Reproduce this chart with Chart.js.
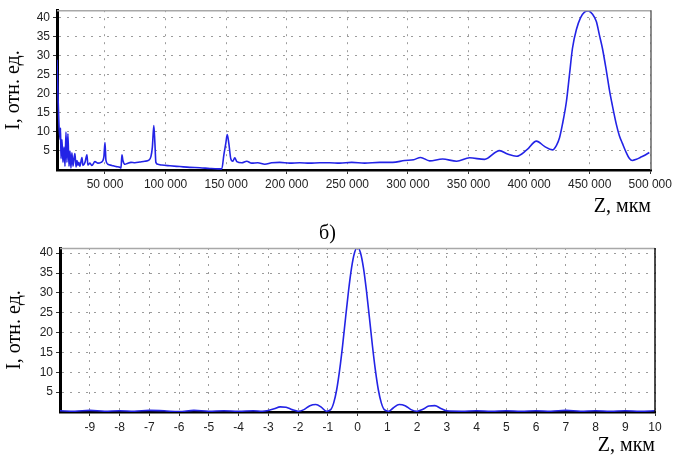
<!DOCTYPE html>
<html><head><meta charset="utf-8">
<script src="https://cdn.jsdelivr.net/npm/chart.js@4.4.0/dist/chart.umd.min.js"></script>
<style>
html,body{margin:0;padding:0;background:#fff;width:676px;height:458px;overflow:hidden}
#c1{position:absolute;left:0;top:0}
#c2{position:absolute;left:0;top:222px}
</style></head><body>
<canvas id="c1" width="676" height="222"></canvas>
<canvas id="c2" width="676" height="236"></canvas>
<script>
// ---- Chart (a): intensity along Z, wide range ----
const topZ = [10400,11200,12000,12900,13300,13700,14500,15300,16200,17000,17800,18600,19400,20300,21100,21900,22700,23600,24400,25200,26100,26900,27700,28500,29300,31000,31800,33500,35100,35900,37600,39200,41700,44200,46700,48300,49100,50000,50800,52400,55700,59000,62300,63200,64000,64800,66500,68900,71400,74700,78800,82900,86200,87900,89100,90300,91200,92000,93700,96900,103600,111800,120000,128300,136500,143100,146400,148100,149700,150900,152200,153800,155500,157100,158800,162900,167000,171100,176100,181900,187600,194200,202500,210700,218900,227200,235400,243700,253600,264300,276700,287400,297300,304700,310500,317900,328600,340200,350900,363200,375600,382200,389600,397800,406100,412700,419300,422600,425100,427500,430800,433300,435800,439100,442400,445700,448900,452200,455500,458000,460500,463800,466300,468700,472000,474500,477000,480300,482800,485200,488500,491800,495100,499200];
const topI = [29,20,12,8,11,3,8,2,6,1,10,2,9.5,1,5,0.5,4.5,1,3,4.3,0.8,2.5,1.2,2,1,3.3,1.2,2,4,1.3,1.8,1.2,2.2,1.8,2,2.5,3.5,7.2,2.5,1.5,1.2,0.9,0.7,0.5,4,2.5,1.5,1.8,2,1.9,2.1,2.3,2.6,3.5,6,11.7,7,2,1.5,1.3,1.1,0.9,0.7,0.6,0.4,0.3,0.3,4,7,9.3,7,3,2.3,3.2,2.2,1.9,2.3,1.8,1.9,1.5,1.9,2,1.8,1.9,1.8,1.9,1.9,1.8,2,1.8,2,2,2.5,2.7,3.3,2.4,2.9,2.3,3.2,2.8,5.1,4.2,3.6,5.2,7.6,6.2,5.3,6.5,8.5,12,18,25,32,37,40,41.5,41.8,41,39,35.5,32,26,21,17,12,9,7,4.5,3,2.5,2.8,3.3,3.8,4.6];
const topXTicks = [50000,100000,150000,200000,250000,300000,350000,400000,450000,500000];
const topYTicks = [5,10,15,20,25,30,35,40];

// ---- Chart (б): intensity along Z, narrow range ----
const botZ = [-10,-9.5,-9,-8.5,-8,-7.5,-7,-6.5,-6,-5.5,-5,-4.5,-4,-3.5,-3.2,-3,-2.8,-2.6,-2.4,-2.2,-2,-1.8,-1.6,-1.4,-1.2,-1.05,-0.9,-0.8,-0.7,-0.6,-0.5,-0.4,-0.3,-0.2,-0.1,0,0.1,0.2,0.3,0.4,0.5,0.6,0.7,0.8,0.9,1.05,1.2,1.4,1.6,1.8,2,2.2,2.4,2.6,2.8,3,3.5,4,4.5,5,5.5,6,6.5,7,7.5,8,8.5,9,9.5,10];
const botI = [0.3,0.2,0.4,0.2,0.3,0.2,0.4,0.3,0.1,0.4,0.2,0.3,0.2,0.3,0.2,0.4,0.8,1.3,1.2,0.6,0.2,0.6,1.6,1.9,1.1,0.2,0.6,2.3,5.6,10.6,16.8,23.8,30.6,36.3,40.1,41.5,40.1,36.3,30.6,23.8,16.8,10.6,5.6,2.3,0.6,0.2,1.0,1.9,1.6,0.6,0.2,0.7,1.5,1.6,0.9,0.3,0.2,0.3,0.2,0.3,0.2,0.3,0.2,0.4,0.2,0.3,0.2,0.3,0.2,0.3];
const botXTicks = [-9,-8,-7,-6,-5,-4,-3,-2,-1,0,1,2,3,4,5,6,7,8,9,10];
const botYTicks = [5,10,15,20,25,30,35,40];

const yTitle = 'I, отн. ед.';
const xTitle = 'Z, мкм';
const panelTitle = 'б)';

const frame = {
  id: 'frame',
  afterDraw(chart, args, opts) {
    const {ctx, chartArea: a} = chart;
    ctx.save();
    ctx.lineWidth = 1.5;
    ctx.strokeStyle = opts.topColor;
    ctx.beginPath(); ctx.moveTo(a.left, a.top + 0.5); ctx.lineTo(a.right, a.top + 0.5); ctx.stroke();
    ctx.strokeStyle = opts.rightColor;
    ctx.beginPath(); ctx.moveTo(a.right, a.top); ctx.lineTo(a.right, a.bottom); ctx.stroke();
    ctx.restore();
  }
};

const fmtThousands = v => String(v).replace(/\B(?=(\d{3})+(?!\d))/g, ' ');
const tickFont = {family: 'Liberation Sans', size: 12};
const titleFont = {family: 'Liberation Serif', size: 20, weight: 'normal'};

function makeChart(id, cfg) {
  const pts = cfg.z.map((z, i) => ({x: z, y: cfg.i[i]}));
  return new Chart(document.getElementById(id), {
    type: 'line',
    data: {datasets: [{data: pts, borderColor: '#2323e6', borderWidth: 1.6, pointRadius: 0,
      cubicInterpolationMode: 'monotone', fill: false}]},
    options: {
      responsive: false, animation: false, devicePixelRatio: 1,
      layout: {padding: cfg.padding},
      plugins: {
        legend: {display: false}, tooltip: {enabled: false},
        title: cfg.title || {display: false},
        frame: {topColor: '#a8a8a8', rightColor: cfg.rightColor}
      },
      scales: {
        x: {
          type: 'linear', min: cfg.xMin, max: cfg.xMax,
          afterFit: s => { s.height = cfg.xH; },
          afterBuildTicks: s => { s.ticks = cfg.xTicks.map(v => ({value: v})); },
          ticks: {autoSkip: false, maxRotation: 0, minRotation: 0, padding: cfg.xTickPad, color: '#222', font: tickFont, callback: cfg.xFmt},
          grid: {color: '#9c9c9c', tickColor: '#333', tickLength: 4, lineWidth: 1},
          border: {display: true, color: '#000', width: 2.5, dash: [2, 6]},
          title: {display: true, text: xTitle, align: 'end', color: '#000', font: titleFont, padding: {top: 0, bottom: cfg.xTitlePad}}
        },
        y: {
          type: 'linear', min: 0, max: cfg.yMax,
          afterFit: s => { s.width = cfg.yW; },
          afterBuildTicks: s => { s.ticks = cfg.yTicks.map(v => ({value: v})); },
          ticks: {padding: 3, color: '#222', font: tickFont},
          grid: {color: '#9c9c9c', tickColor: '#333', tickLength: 4, lineWidth: 1},
          border: {display: true, color: '#000', width: 3, dash: [2, 6]},
          title: {display: true, text: yTitle, color: '#000', font: titleFont, padding: {top: cfg.yTitlePad, bottom: 0}}
        }
      }
    },
    plugins: [frame]
  });
}

makeChart('c1', {
  z: topZ, i: topI, xMin: 10400, xMax: 500600, yMax: 42,
  xTicks: topXTicks, yTicks: topYTicks, xFmt: v => fmtThousands(v),
  padding: {top: 6, right: 25, left: 0, bottom: 0},
  xH: 52, yW: 57, xTickPad: 3, xTitlePad: 3, yTitlePad: 1.5, rightColor: '#666'
});

makeChart('c2', {
  z: botZ, i: botI, xMin: -10, xMax: 10, yMax: 41.3,
  xTicks: botXTicks, yTicks: botYTicks, xFmt: v => String(v),
  padding: {top: 0, right: 21, left: 0, bottom: 0},
  title: {display: true, text: panelTitle, color: '#000', font: titleFont, padding: {top: 0, bottom: 2}},
  xH: 46, yW: 60, xTickPad: 4, xTitlePad: 0, yTitlePad: 2.5, rightColor: '#111'
});
</script>
</body></html>
